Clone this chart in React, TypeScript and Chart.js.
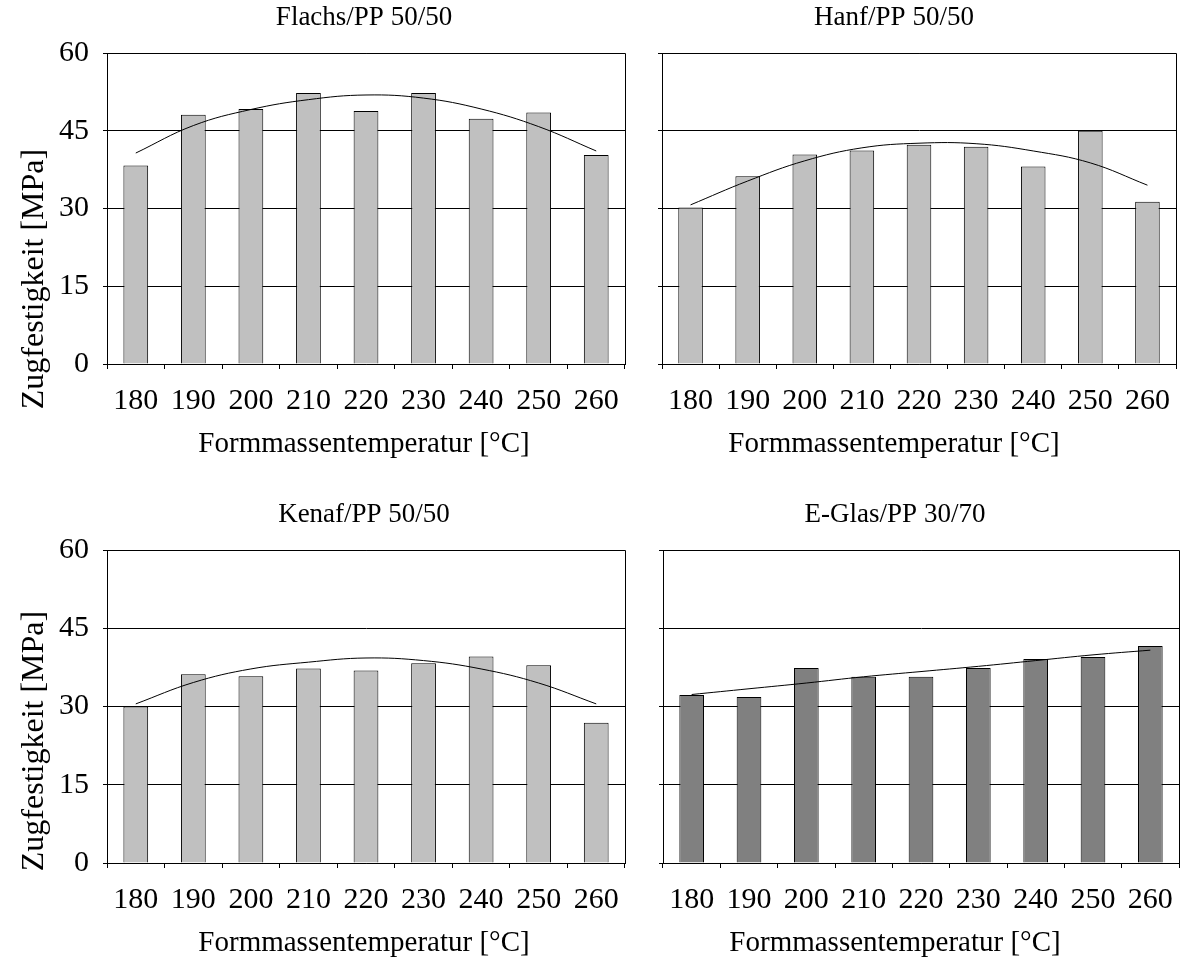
import React, { useEffect, useRef } from "react";
import { Chart, registerables } from "chart.js";

Chart.register(...registerables);

const categories = ["180", "190", "200", "210", "220", "230", "240", "250", "260"];
const yTicks = [0, 15, 30, 45, 60];

const flachsBars = [38.3, 48.1, 49.2, 52.3, 48.8, 52.3, 47.3, 48.5, 40.3];
const flachsTrend = [40.7, 46.0, 49.1, 51.0, 51.9, 51.3, 49.2, 45.8, 41.1];
const hanfBars = [30.2, 36.2, 40.4, 41.2, 42.3, 41.9, 38.1, 45.0, 31.3];
const hanfTrend = [30.7, 35.3, 39.2, 41.7, 42.6, 42.5, 41.1, 38.8, 34.5];
const kenafBars = [30.0, 36.2, 35.8, 37.3, 36.9, 38.3, 39.6, 37.9, 26.9];
const kenafTrend = [30.5, 34.6, 37.2, 38.5, 39.3, 38.8, 37.2, 34.5, 30.5];
const glasBars = [32.2, 31.8, 37.4, 35.7, 35.7, 37.4, 39.1, 39.5, 41.6];
const glasTrend = [32.3, 33.4, 34.5, 35.7, 36.7, 37.7, 38.8, 39.9, 40.8];

const FONT = '"Liberation Serif", "Times New Roman", serif';
const X_TITLE = "Formmassentemperatur [°C]";
const Y_TITLE = "Zugfestigkeit [MPa]";

type Panel = {
  key: string;
  title: string;
  bars: number[];
  trend: number[];
  color: string;
  left: number;
  top: number;
  width: number;
  height: number;
  pl: number;
  pr: number;
  pt: number;
  pb: number;
  showY: boolean;
  titleX: number;
  yTitleCY: number | null;
};

const panels: Panel[] = [
  { key: "tl", title: "Flachs/PP 50/50", bars: flachsBars, trend: flachsTrend, color: "#C0C0C0",
    left: 0, top: 0, width: 640, height: 470, pl: 107, pr: 625, pt: 53, pb: 364, showY: true, titleX: 364, yTitleCY: 279 },
  { key: "tr", title: "Hanf/PP 50/50", bars: hanfBars, trend: hanfTrend, color: "#C0C0C0",
    left: 640, top: 0, width: 551, height: 470, pl: 22, pr: 536, pt: 53, pb: 364, showY: false, titleX: 254, yTitleCY: null },
  { key: "bl", title: "Kenaf/PP 50/50", bars: kenafBars, trend: kenafTrend, color: "#C0C0C0",
    left: 0, top: 497, width: 640, height: 468, pl: 107, pr: 625, pt: 53, pb: 366, showY: true, titleX: 364, yTitleCY: 244 },
  { key: "br", title: "E-Glas/PP 30/70", bars: glasBars, trend: glasTrend, color: "#808080",
    left: 640, top: 497, width: 551, height: 468, pl: 23, pr: 539, pt: 53, pb: 366, showY: false, titleX: 255, yTitleCY: null },
];

const textPlugin = {
  id: "panelTexts",
  afterDraw(chart: any, _args: any, opts: any) {
    const ctx = chart.ctx;
    const items = opts.items || [];
    for (const t of items) {
      ctx.save();
      ctx.font = `${t.size}px ${FONT}`;
      ctx.fillStyle = "#000";
      ctx.textAlign = "center";
      ctx.textBaseline = t.baseline || "middle";
      ctx.translate(t.x, t.y);
      if (t.rotate) ctx.rotate(-Math.PI / 2);
      ctx.fillText(t.text, 0, 0);
      ctx.restore();
    }
  },
};

const borderPlugin = {
  id: "plotBorder",
  afterDatasetsDraw(chart: any) {
    const { ctx, chartArea } = chart;
    ctx.save();
    ctx.strokeStyle = "#000";
    ctx.lineWidth = 1;
    ctx.beginPath();
    const r = Math.round(chartArea.right) + 0.5;
    const t = Math.round(chartArea.top) + 0.5;
    ctx.moveTo(Math.round(chartArea.left), t);
    ctx.lineTo(r, t);
    ctx.lineTo(r, Math.round(chartArea.bottom) + 0.5);
    ctx.stroke();
    ctx.restore();
  },
};

function PanelChart({ p }: { p: Panel }) {
  const ref = useRef<HTMLCanvasElement>(null);
  useEffect(() => {
    if (!ref.current) return;
    const items: any[] = [
      { text: p.title, x: p.titleX, y: 18, size: 27 },
      { text: X_TITLE, x: p.titleX, y: p.pb + 80, size: 29 },
    ];
    if (p.showY && p.yTitleCY !== null) {
      items.push({ text: Y_TITLE, x: 43, y: p.yTitleCY, size: 32, rotate: true, baseline: "alphabetic" });
    }
    const chart = new Chart(ref.current, {
      type: "bar",
      data: {
        labels: categories,
        datasets: [
          {
            type: "line" as const,
            data: p.trend,
            borderColor: "#000",
            borderWidth: 1,
            pointRadius: 0,
            tension: 0.4,
            fill: false,
            order: 0,
          },
          {
            type: "bar" as const,
            data: p.bars,
            backgroundColor: p.color,
            borderColor: "#000",
            borderWidth: 1,
            barPercentage: 0.43,
            categoryPercentage: 1,
            order: 1,
          },
        ] as any,
      },
      options: {
        responsive: false,
        animation: false,
        events: [],
        layout: { padding: { top: p.pt, right: p.width - p.pr, left: 0, bottom: 0 } },
        plugins: {
          legend: { display: false },
          tooltip: { enabled: false },
          title: { display: false },
          panelTexts: { items },
        } as any,
        scales: {
          x: {
            offset: true,
            grid: { display: true, drawOnChartArea: false, drawTicks: true, tickLength: 5, color: "#000", offset: true },
            border: { display: true, color: "#000", width: 1 },
            ticks: { color: "#000", font: { family: FONT, size: 30 }, padding: 14, maxRotation: 0, autoSkip: false },
            afterFit: (s: any) => { s.height = p.height - p.pb; },
          },
          y: {
            min: yTicks[0],
            max: yTicks[yTicks.length - 1],
            ticks: {
              stepSize: yTicks[1] - yTicks[0],
              display: p.showY,
              color: "#000",
              font: { family: FONT, size: 30 },
              padding: 14,
            },
            grid: { color: "#000", lineWidth: 1, drawTicks: true, tickLength: 4 },
            border: { display: true, color: "#000", width: 1 },
            afterFit: (s: any) => { s.width = p.pl; },
          },
        },
      },
      plugins: [textPlugin, borderPlugin],
    });
    return () => chart.destroy();
  }, [p]);
  return (
    <canvas
      ref={ref}
      width={p.width}
      height={p.height}
      style={{ position: "absolute", left: p.left, top: p.top, width: p.width, height: p.height, display: "block" }}
    />
  );
}

export default function App() {
  return (
    <div style={{ position: "absolute", left: 0, top: 0, width: 1191, height: 965, background: "#fff" }}>
      {panels.map((p) => (
        <PanelChart key={p.key} p={p} />
      ))}
    </div>
  );
}
